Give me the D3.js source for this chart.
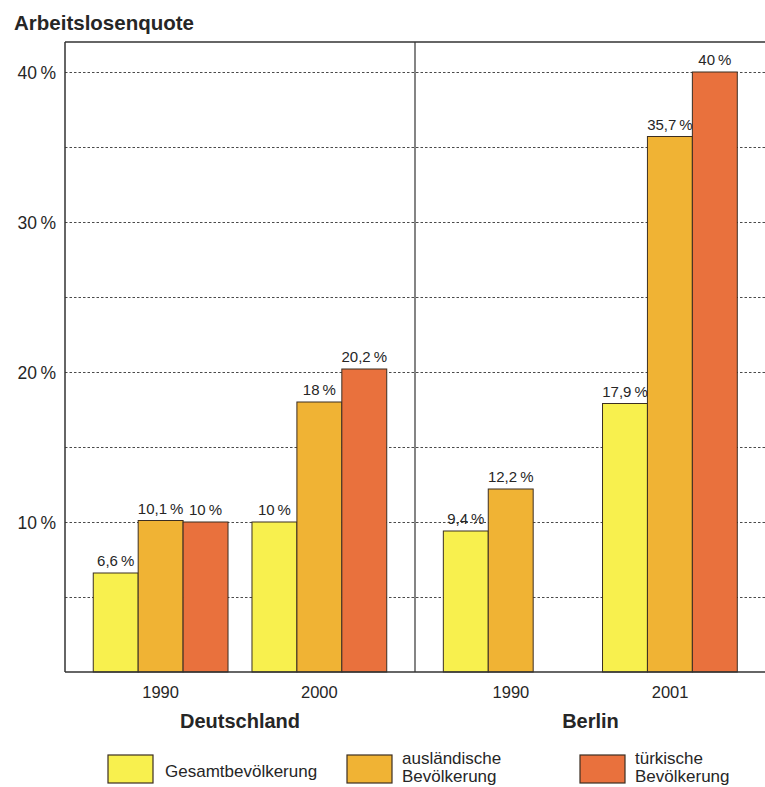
<!DOCTYPE html>
<html lang="de">
<head>
<meta charset="utf-8">
<title>Arbeitslosenquote</title>
<script src="https://cdn.jsdelivr.net/npm/d3@7"></script>
<style>
  html, body { margin: 0; padding: 0; background: #ffffff; }
  svg { display: block; font-family: "Liberation Sans", Arial, Helvetica, sans-serif; }
</style>
</head>
<body>
<svg id="chart" width="765" height="787"></svg>
<script>
// Regions (panels) and the survey years shown in each
const regions = ["Deutschland", "Berlin"];
const yearsDeutschland = ["1990", "2000"];
const yearsBerlin = ["1990", "2001"];

// Population groups (series)
const seriesNames = ["Gesamtbevölkerung", "ausländische Bevölkerung", "türkische Bevölkerung"];
const seriesLegendLines = [["Gesamtbevölkerung"], ["ausländische", "Bevölkerung"], ["türkische", "Bevölkerung"]];

// Unemployment rates in %, order: DE 1990, DE 2000, Berlin 1990, Berlin 2001
const gesamt       = [6.6, 10, 9.4, 17.9];
const auslaendisch = [10.1, 18, 12.2, 35.7];
const tuerkisch    = [10, 20.2, null, 40];

// Axis ticks
const yTickLabels = [10, 20, 30, 40];
const yGridValues = [5, 10, 15, 20, 25, 30, 35, 40];

const colors = ["#f8f04e", "#f0b334", "#e9713d"];
const ink = "#262626";

const svg = d3.select("#chart");

// Layout of the plotting frame
const frame = { left: 65, top: 42, right: 766, bottom: 672, divider: 415 };

const y = d3.scaleLinear().domain([0, 42]).range([frame.bottom, frame.top]);

// One band scale per panel for the years, and a shared inner scale for the series
const panels = [
  { name: regions[0], years: yearsDeutschland, x0: frame.left, x1: frame.divider, offset: 0 },
  { name: regions[1], years: yearsBerlin, x0: frame.divider, x1: frame.right, offset: 2 }
];
panels.forEach(p => {
  p.scale = d3.scaleBand().domain(p.years).range([p.x0, p.x1]).paddingInner(0.151).paddingOuter(0.178);
});
const inner = d3.scaleBand().domain(seriesNames).range([0, panels[0].scale.bandwidth()]).padding(0);

const seriesValues = [gesamt, auslaendisch, tuerkisch];
const fmt = v => d3.format(".1~f")(v).replace(".", ",") + "\u2009%";

// Dotted horizontal grid lines (behind the bars)
svg.append("g")
  .selectAll("line")
  .data(yGridValues)
  .join("line")
  .attr("x1", frame.left)
  .attr("x2", frame.right)
  .attr("y1", d => Math.round(y(d)) + 0.5)
  .attr("y2", d => Math.round(y(d)) + 0.5)
  .attr("stroke", "#4a4a4a")
  .attr("stroke-width", 1)
  .attr("stroke-dasharray", "2.5,2");

// Bars and value labels
const barData = [];
panels.forEach(p => {
  p.years.forEach((yr, i) => {
    seriesNames.forEach((s, k) => {
      const v = seriesValues[k][p.offset + i];
      if (v == null) return;
      barData.push({ panel: p, year: yr, series: s, k, value: v });
    });
  });
});

const bars = svg.append("g");
bars.selectAll("rect")
  .data(barData)
  .join("rect")
  .attr("x", d => d.panel.scale(d.year) + inner(d.series))
  .attr("y", d => y(d.value))
  .attr("width", inner.bandwidth())
  .attr("height", d => y(0) - y(d.value))
  .attr("fill", d => colors[d.k])
  .attr("stroke", "#3b2e22")
  .attr("stroke-width", 1);

bars.selectAll("text")
  .data(barData)
  .join("text")
  .attr("x", d => d.panel.scale(d.year) + inner(d.series) + inner.bandwidth() / 2)
  .attr("y", d => y(d.value) - 7)
  .attr("text-anchor", "middle")
  .attr("font-size", 15)
  .attr("fill", ink)
  .text(d => fmt(d.value));

// Frame: left axis, top edge, baseline and panel divider
const frameG = svg.append("g").attr("stroke", "#333").attr("fill", "none");
frameG.append("line").attr("x1", frame.left).attr("x2", frame.left).attr("y1", frame.top).attr("y2", frame.bottom).attr("stroke-width", 1.5);
frameG.append("line").attr("x1", frame.left).attr("x2", frame.right).attr("y1", frame.top).attr("y2", frame.top).attr("stroke-width", 1.5);
frameG.append("line").attr("x1", frame.left).attr("x2", frame.right).attr("y1", frame.bottom).attr("y2", frame.bottom).attr("stroke-width", 1.5);
frameG.append("line").attr("x1", frame.divider).attr("x2", frame.divider).attr("y1", frame.top).attr("y2", frame.bottom).attr("stroke-width", 1.2);

// Y axis labels
svg.append("g")
  .selectAll("text")
  .data(yTickLabels)
  .join("text")
  .attr("x", 56)
  .attr("y", d => y(d) + 7)
  .attr("text-anchor", "end")
  .attr("font-size", 17.5)
  .attr("fill", ink)
  .text(d => d + "\u2009%");

// Axis title
svg.append("text")
  .attr("x", 14)
  .attr("y", 30)
  .attr("font-size", 20.5)
  .attr("font-weight", "bold")
  .attr("fill", ink)
  .text("Arbeitslosenquote");

// Year labels and panel names
panels.forEach(p => {
  svg.append("g")
    .selectAll("text")
    .data(p.years)
    .join("text")
    .attr("x", d => p.scale(d) + p.scale.bandwidth() / 2)
    .attr("y", 698)
    .attr("text-anchor", "middle")
    .attr("font-size", 16.5)
    .attr("fill", ink)
    .text(d => d);
  svg.append("text")
    .attr("x", (p.x0 + p.x1) / 2)
    .attr("y", 728)
    .attr("text-anchor", "middle")
    .attr("font-size", 20)
    .attr("font-weight", "bold")
    .attr("fill", ink)
    .text(p.name);
});

// Legend
const legendX = [108, 347, 580];
const legend = svg.append("g");
seriesNames.forEach((s, k) => {
  const g = legend.append("g").attr("transform", `translate(${legendX[k]},755)`);
  g.append("rect")
    .attr("width", 45)
    .attr("height", 28)
    .attr("fill", colors[k])
    .attr("stroke", "#3b2e22")
    .attr("stroke-width", 1.2);
  const lines = seriesLegendLines[k];
  const t = g.append("text")
    .attr("font-size", 17)
    .attr("fill", ink);
  if (lines.length === 1) {
    t.append("tspan").attr("x", 57).attr("y", 22).text(lines[0]);
  } else {
    lines.forEach((ln, j) => {
      t.append("tspan").attr("x", 55).attr("y", 9 + j * 18).text(ln);
    });
  }
});
</script>
</body>
</html>
